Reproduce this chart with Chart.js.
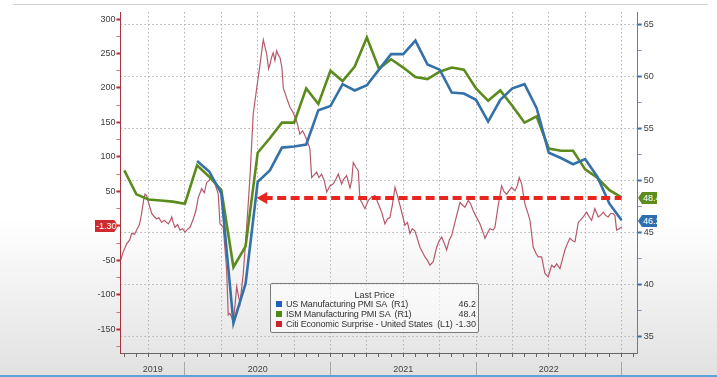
<!DOCTYPE html>
<html>
<head>
  <title>PMI vs Citi Economic Surprise</title>
  <script src="https://cdn.jsdelivr.net/npm/chart.js"></script>
  <style>
    html, body { margin: 0; padding: 0; }
    body {
      width: 717px;
      height: 377px;
      position: relative;
      overflow: hidden;
      background: linear-gradient(to bottom, #ffffff 0%, #ffffff 58%, #e1e1e1 100%);
      font-family: "Liberation Sans", Arial, sans-serif;
    }
    canvas { position: absolute; left: 0; top: 0; }
    .topline { position: absolute; left: 13px; top: 4px; width: 695px; height: 1px; background: #cfcfcf; }
    .bottombar { position: absolute; left: 0; bottom: 0; width: 717px; height: 2px; background: #5aa3d6; }
    .legend {
      position: absolute; left: 270px; top: 283px; width: 207px; height: 48px;
      border: 1px solid #7a7a7a; border-radius: 2px; background: rgba(255,255,255,0.55);
      font-size: 9px; color: #333; line-height: 10px;
    }
    .legend .head { position: absolute; left: 0; width: 100%; top: 6px; text-align: center; }
    .legend .row { position: absolute; left: 15px; right: 2px; white-space: pre; letter-spacing: -0.17px; }
    .legend .row .val { position: absolute; right: 0; top: 0; letter-spacing: 0; }
    .legend .sw { position: absolute; left: -10px; top: 2px; width: 6px; height: 6px; }
    .tag {
      position: absolute; height: 12px; line-height: 12px; font-size: 9px; color: #fff; white-space: pre;
    }
    #tagL { left: 95px; top: 220px; width: 23px; background: #cf2a30; padding-left: 1px; box-sizing: border-box;
            clip-path: polygon(0 0, 84% 0, 100% 50%, 84% 100%, 0 100%); }
    .rclip { position: absolute; left: 638px; top: 188px; width: 19px; height: 45px; overflow: hidden; }
    #tagG { left: 0; top: 4px; width: 30px; background: #5e8c1f; padding-left: 5px; box-sizing: border-box;
            clip-path: polygon(0 50%, 4px 0, 100% 0, 100% 100%, 4px 100%); }
    #tagB { left: 0; top: 27px; width: 30px; background: #2f6fb0; padding-left: 5px; box-sizing: border-box;
            clip-path: polygon(0 50%, 4px 0, 100% 0, 100% 100%, 4px 100%); }
  </style>
</head>
<body>
  <div class="topline"></div>
  <canvas id="chart" width="717" height="377"></canvas>

  <div class="legend">
    <div class="head">Last Price</div>
    <div class="row" style="top:15px"><span class="sw" style="background:#1f5fbf"></span>US Manufacturing PMI SA  (R1)<span class="val">46.2</span></div>
    <div class="row" style="top:25px"><span class="sw" style="background:#4d8a12"></span>ISM Manufacturing PMI SA  (R1)<span class="val">48.4</span></div>
    <div class="row" style="top:35px"><span class="sw" style="background:#d0222c"></span>Citi Economic Surprise - United States  (L1)<span class="val">-1.30</span></div>
  </div>

  <div class="tag" id="tagL">-1.30</div>
  <div class="rclip">
    <div class="tag" id="tagG">48.4</div>
    <div class="tag" id="tagB">46.2</div>
  </div>
  <div class="bottombar"></div>

  <script>
    // x is counted in months, 0 = end of Jul 2019 (monthly data sits on month end)
    const ismStart = 0;   // Jul 2019
    const usStart = 6;    // Jan 2020

    const ismValues = [51.0, 48.7, 48.2, 48.1, 48.0, 47.8,
      51.5, 50.4, 49.1, 41.7, 43.7, 52.7, 54.1, 55.6, 55.6, 58.9, 57.4, 60.6,
      59.6, 61.0, 63.8, 60.8, 61.7, 60.9, 60.0, 59.8, 60.5, 60.9, 60.7, 58.9,
      57.7, 58.7, 57.2, 55.6, 56.2, 53.1, 52.9, 52.9, 51.1, 50.3, 49.1, 48.4];

    const usValues = [51.9, 50.9, 48.8, 36.3, 40.1, 49.9, 51.0, 53.2, 53.3, 53.5, 56.8, 57.2,
      59.3, 58.7, 59.2, 60.7, 62.2, 62.2, 63.5, 61.2, 60.7, 58.5, 58.4, 57.8,
      55.7, 57.8, 58.9, 59.3, 57.0, 52.7, 52.2, 51.6, 52.1, 50.4, 47.8, 46.2];

    const citiMonths = [-0.30, -0.1, 0.20, 0.45, 0.61, 0.85, 1.02, 1.25, 1.43, 1.60, 1.71, 1.85, 1.98,
      2.26, 2.45, 2.67, 2.85, 3.08, 3.3, 3.63, 3.8, 3.91, 4.05, 4.18, 4.4, 4.59, 4.8, 5.00, 5.2, 5.42,
      5.69, 5.9, 6.10, 6.38, 6.6, 6.79, 7.0, 7.21, 7.48, 7.75, 7.89, 8.16, 8.44, 8.57, 8.70, 8.85, 8.99,
      9.27, 9.40, 9.54, 9.81, 10.09, 10.36, 10.63, 10.92, 11.19, 11.46, 11.74, 11.9, 12.01, 12.15, 12.28,
      12.42, 12.56, 12.7, 12.84, 13.0, 13.11, 13.4, 13.66, 13.93, 14.21, 14.48, 14.7, 14.90, 15.17, 15.3,
      15.45, 15.86, 16.05, 16.27, 16.5, 16.69, 16.96, 17.23, 17.45, 17.64, 17.92, 18.1, 18.33, 18.61,
      18.75, 18.88, 19.1, 19.29, 19.43, 19.84, 20.12, 20.4, 20.67, 20.94, 21.22, 21.49, 21.7, 21.90,
      22.1, 22.32, 22.5, 22.73, 23.14, 23.35, 23.55, 23.75, 23.96, 24.38, 24.79, 25.0, 25.20, 25.47,
      25.75, 25.95, 26.17, 26.38, 26.58, 26.8, 26.99, 27.40, 27.68, 27.9, 28.09, 28.36, 28.55, 28.77,
      29.05, 29.32, 29.55, 29.74, 29.95, 30.15, 30.4, 30.56, 30.83, 31.11, 31.3, 31.53, 31.75, 31.94,
      32.21, 32.4, 32.56, 32.76, 33.03, 33.25, 33.45, 33.72, 33.95, 34.13, 34.41, 34.68, 34.95, 35.1,
      35.24, 35.45, 35.65, 35.92, 36.1, 36.33, 36.55, 36.74, 37.0, 37.16, 37.43, 37.84, 38.12, 38.3,
      38.53, 38.80, 39.08, 39.3, 39.49, 39.7, 39.90, 40.1, 40.31, 40.45, 40.59, 40.8, 41.01];

    const citiValues = [-50, -38, -26, -20, -11, -12, -6, 2, 18, 38, 46, 44, 35,
      18, 14, 10, 12, 5, 8, 3, 8, 13, 4, -2, 2, -6, -4, -9, -5, -2,
      10, 22, 41, 54, 48, 63, 66, 73, 61, 46, 3, -2, -64, -129, -127, -132, -141,
      -88, -100, -112, -69, -2, 70, 162, 200, 234, 270, 249, 228, 234, 245, 251,
      240, 254, 248, 244, 229, 200, 185, 172, 164, 152, 133, 138, 131, 119, 112,
      70, 78, 70, 75, 65, 49, 58, 61, 68, 75, 61, 68, 73, 55,
      66, 92, 85, 80, 39, 25, 37, 42, 44, 32, 20, 3, 10, 12,
      30, 56, 45, 30, 1, 5, -11, -4, -7, -31, -45, -50, -57, -52,
      -31, -22, -16, -25, -35, -20, -14, 15, 34, 30, 27, 37, 32, 22,
      12, 3, -8, -18, -10, -4, -6, -2, 30, 58, 50, 46, 52, 56,
      51, 58, 70, 61, 32, 20, 8, -31, -40, -45, -45, -69, -74, -65,
      -57, -60, -55, -62, -50, -35, -25, -18, -22, -23, 5, 13, 20, 14,
      8, 25, 13, 16, 20, 15, 13, 18, 18, 15, -6, -4, -1.3];

    // red dashed arrow at the last ISM level
    const arrowMonths = [11.49, 41.0];
    const arrowValues = [48.35, 48.35];

    const leftTicks = [-175, -150, -125, -100, -75, -50, -25, 0, 25, 50, 75, 100, 125, 150, 175, 200, 225, 250, 275, 300];
    const rightTicks = [35, 37.5, 40, 42.5, 45, 47.5, 50, 52.5, 55, 57.5, 60, 62.5, 65];
    const yearBounds = [5, 17, 29, 41];
    const yearMids = [2.34, 11, 23, 35];
    const yearLabels = ['2019', '2020', '2021', '2022'];

    const X_MIN = -0.32, X_MAX = 42.33;

    const ismData = ismValues.map((v, i) => ({ x: ismStart + i, y: v }));
    const usData = usValues.map((v, i) => ({ x: usStart + i, y: v }));
    const citiData = citiMonths.map((m, i) => ({ x: m, y: citiValues[i] }));
    const arrowData = arrowMonths.map((m, i) => ({ x: m, y: arrowValues[i] }));

    const monthTicks = [];
    for (let m = 0; m <= 42; m++) monthTicks.push(m);

    const isQuarter = v => Math.abs((v - 2) % 3) < 0.001;
    const near = (a, b) => Math.abs(a - b) < 0.01;

    new Chart(document.getElementById('chart'), {
      type: 'line',
      data: {
        datasets: [{
          label: 'arrow',
          data: arrowData,
          yAxisID: 'y1',
          borderColor: '#e8261f',
          backgroundColor: '#e8261f',
          borderWidth: 4,
          borderDash: [9, 4.5],
          pointStyle: 'triangle',
          pointRotation: -90,
          pointRadius: ctx => ctx.dataIndex === 0 ? 7 : 0,
          pointBorderWidth: 0,
          pointBackgroundColor: '#e8261f',
          order: 0
        }, {
          label: 'US Manufacturing PMI SA (R1)',
          data: usData,
          yAxisID: 'y1',
          borderColor: '#3471a8',
          borderWidth: 2.6,
          pointRadius: 0,
          order: 1
        }, {
          label: 'ISM Manufacturing PMI SA (R1)',
          data: ismData,
          yAxisID: 'y1',
          borderColor: '#5b8b1d',
          borderWidth: 2.6,
          pointRadius: 0,
          order: 2
        }, {
          label: 'Citi Economic Surprise - United States (L1)',
          data: citiData,
          yAxisID: 'y',
          borderColor: '#b5596a',
          borderWidth: 1.2,
          pointRadius: 0,
          order: 3
        }]
      },
      options: {
        responsive: false,
        animation: false,
        devicePixelRatio: 1,
        layout: { padding: { top: 12, left: 0, right: 0, bottom: 0 } },
        plugins: { legend: { display: false }, tooltip: { enabled: false } },
        scales: {
          x: {
            type: 'linear', position: 'bottom', min: X_MIN, max: X_MAX,
            afterBuildTicks: s => { s.ticks = monthTicks.map(v => ({ value: v })); },
            afterFit: s => { s.height = 9; },
            grid: {
              color: ctx => isQuarter(ctx.tick.value) ? '#b3b3b3' : 'rgba(0,0,0,0)',
              tickColor: '#666', tickLength: 4, tickWidth: 1, tickBorderDash: []
            },
            border: { color: '#666', width: 1, dash: [1.5, 2.5] },
            ticks: { display: false }
          },
          x2: {
            type: 'linear', position: 'bottom', min: X_MIN, max: X_MAX,
            afterBuildTicks: s => { s.ticks = yearBounds.concat(yearMids).map(v => ({ value: v })); },
            afterFit: s => { s.height = 15; },
            grid: {
              drawOnChartArea: false, tickLength: 13, tickWidth: 1,
              tickColor: ctx => yearBounds.some(b => near(b, ctx.tick.value)) ? '#a8a8a8' : 'rgba(0,0,0,0)'
            },
            border: { display: false },
            ticks: {
              autoSkip: false, maxRotation: 0, padding: -11, color: '#444',
              font: { family: 'Liberation Sans', size: 9 },
              callback: v => {
                const i = yearMids.findIndex(m => near(m, v));
                return i >= 0 ? yearLabels[i] : '';
              }
            }
          },
          y: {
            position: 'left', min: -184.3, max: 310.2,
            afterBuildTicks: s => { s.ticks = leftTicks.map(v => ({ value: v })); },
            afterFit: s => { s.width = 120.4; },
            grid: {
              drawOnChartArea: false, tickLength: 4,
              tickColor: ctx => ctx.tick.value % 50 === 0 ? '#b3303b' : '#c47a82',
              tickWidth: ctx => ctx.tick.value % 50 === 0 ? 2 : 1
            },
            border: { color: '#a8323c', width: 1 },
            ticks: {
              padding: 1, color: '#3c3c3c',
              font: { family: 'Liberation Sans', size: 9 },
              callback: v => v % 50 === 0 ? String(v) : ''
            }
          },
          y1: {
            position: 'right', min: 33.43, max: 66.25,
            afterBuildTicks: s => { s.ticks = rightTicks.map(v => ({ value: v })); },
            afterFit: s => { s.width = 79.3; },
            grid: {
              color: ctx => ctx.tick.value % 5 === 0 ? '#b3b3b3' : 'rgba(0,0,0,0)',
              tickLength: 4,
              tickColor: ctx => ctx.tick.value % 5 === 0 ? '#3a6ea8' : '#7d9cc2',
              tickWidth: ctx => ctx.tick.value % 5 === 0 ? 2 : 1,
              tickBorderDash: []
            },
            border: { color: '#5b7fa6', width: 1, dash: [1.5, 2.5] },
            ticks: {
              padding: 2, color: '#3c3c3c',
              font: { family: 'Liberation Sans', size: 9 },
              callback: v => v % 5 === 0 ? String(v) : ''
            }
          }
        }
      }
    });
  </script>
</body>
</html>
